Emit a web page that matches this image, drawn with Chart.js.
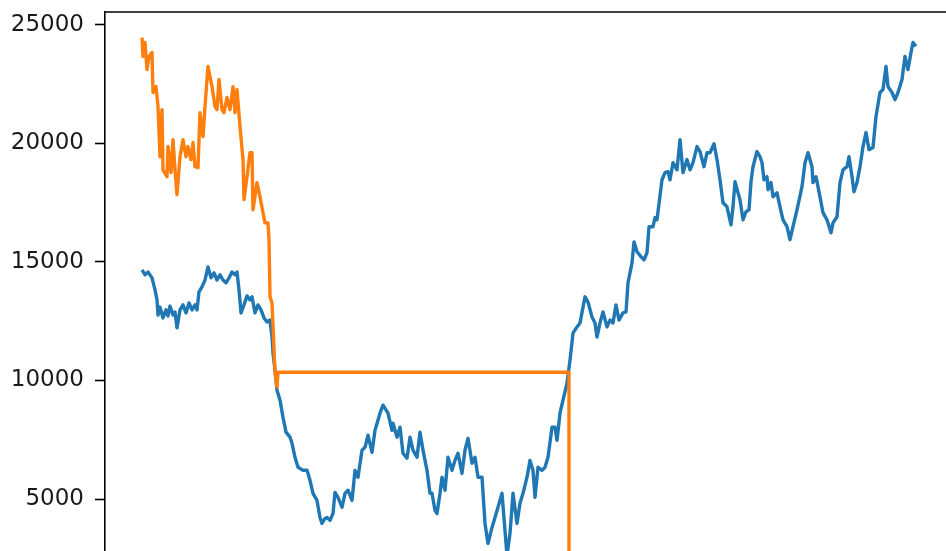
<!DOCTYPE html>
<html>
<head>
<meta charset="utf-8">
<script src="https://cdn.jsdelivr.net/npm/chart.js@4.4.1/dist/chart.umd.min.js"></script>
<style>
  html, body { margin: 0; padding: 0; background: #fff; overflow: hidden; }
  canvas { display: block; }
</style>
</head>
<body>
<canvas id="chart" width="946" height="551"></canvas>
<script>
// day numbers and values
var blueDays = [2,5,8,12,15,17,18,20,23,26,28,30,33,35,37,40,43,46,49,52,55,57,59,62,65,68,71,74,77,80,83,86,89,92,95,97,99,101,104,107,110,112,115,118,121,124,127,130,132,133,135,137,140,143,146,150,152,155,158,163,167,170,173,177,180,182,185,187,190,193,195,198,202,205,208,212,215,218,222,225,228,232,235,240,243,248,252,253,257,260,263,267,270,273,277,280,283,287,290,292,295,297,300,302,305,308,312,315,318,322,325,328,332,335,338,342,345,348,352,355,358,362,365,367,370,373,377,380,383,387,390,393,395,398,402,405,408,412,415,417,420,423,427,430,433,437,440,445,448,452,455,457,460,463,467,470,473,476,479,483,486,488,492,494,497,501,504,507,509,513,515,517,522,525,528,530,533,537,540,543,547,550,553,557,560,564,567,570,574,577,580,583,587,591,593,595,598,600,603,606,609,611,613,617,620,622,624,627,628,631,633,637,640,643,647,650,653,657,662,665,668,672,673,676,680,683,687,691,693,697,700,703,707,709,712,714,717,720,723,726,729,733,736,740,743,746,748,752,755,758,762,765,768,771,773,776];
var blueValues = [14670,14460,14580,14330,13820,13400,12760,13100,12640,12980,12720,13140,12760,12890,12220,12980,13190,12850,13270,12980,13190,12980,13740,13950,14240,14790,14330,14540,14240,14460,14240,14120,14330,14580,14460,14580,13820,12850,13190,13570,13400,13530,12850,13190,12980,12640,12470,12550,11830,11160,10440,9590,9170,8450,7820,7610,7350,6760,6340,6210,6210,5790,5240,4940,4220,3970,4180,4220,4100,4390,5280,5070,4650,5240,5370,4940,6210,5920,7060,7180,7690,6970,7900,8620,8960,8620,7900,8200,7610,8030,6930,6720,7610,7060,6760,7820,7060,6210,5240,5240,4520,4390,5240,5920,5370,6760,6210,6630,6930,6080,7060,7560,6510,6760,5920,5920,3970,3120,3800,4220,4650,5240,3670,2620,3550,5240,3970,4820,5240,5920,6630,6210,5070,6340,6210,6340,6760,8030,8030,7480,8620,9170,9890,10860,12000,12260,12430,13530,13310,12680,12430,11830,12430,12890,12260,12550,12430,13190,12550,12850,12890,14120,14960,15850,15430,15220,15090,15390,16490,16490,16870,16780,18470,18770,18810,18470,19190,18890,20160,18770,19320,18890,19190,19870,19660,19020,19610,19610,19990,19320,18470,17500,17330,16570,17330,18390,17920,17630,16780,17120,17200,18390,19020,19660,19440,19190,18470,18600,18050,18350,17750,17920,17330,16780,16490,15940,16490,17200,18180,19190,19610,19020,18350,18600,17750,17080,16780,16230,16650,16910,18350,18890,19020,19440,18600,17960,18350,19020,19870,20460,19740,19830,21140,22150,22280,23250,22400,22150,21850,22150,22700,23670,23120,23840,24260,24100];

var orangeDays = [2,3,5,7,9,12,13,16,18,20,22,23,27,28,31,33,35,37,40,43,46,48,51,53,55,58,60,63,65,68,72,75,77,79,82,84,87,90,93,95,97,100,103,104,107,110,112,113,117,120,123,125,128,129,130,132,135,137,138,429,429];
var orangeValues = [24470,23670,24260,23120,23670,23840,22150,22400,21560,19440,21430,18890,18600,19870,18770,20160,18890,17840,19440,20160,19440,19870,19320,20040,19020,18980,21300,20290,21560,23250,22400,21560,21430,22700,21430,21300,21940,21430,22400,21300,22280,20710,19320,17630,18600,19610,19610,17200,18350,17750,17080,16650,16650,15940,13530,13270,10350,9720,10350,10350,-3000];

var yTicks = [5000, 10000, 15000, 20000, 25000];

function toPoints(xs, ys) {
    return xs.map(function (x, i) { return { x: x, y: ys[i] }; });
}

// top spine, like the matplotlib frame
var topSpine = {
    id: 'topSpine',
    afterDraw: function (chart) {
        var a = chart.chartArea;
        var ctx = chart.ctx;
        ctx.save();
        ctx.strokeStyle = '#000';
        ctx.lineWidth = 1.6;
        ctx.beginPath();
        ctx.moveTo(a.left, a.top);
        ctx.lineTo(a.right + 2, a.top);
        ctx.stroke();
        ctx.restore();
    }
};

new Chart(document.getElementById('chart'), {
    type: 'line',
    data: {
        datasets: [{
            data: toPoints(orangeDays, orangeValues),
            borderColor: '#ff7f0e',
            borderWidth: 3.4,
            pointRadius: 0,
            tension: 0,
            borderJoinStyle: 'round',
            order: 0
        }, {
            data: toPoints(blueDays, blueValues),
            borderColor: '#1f77b4',
            borderWidth: 3.4,
            pointRadius: 0,
            tension: 0,
            borderJoinStyle: 'round',
            order: 1
        }]
    },
    options: {
        responsive: false,
        animation: false,
        layout: { padding: { top: 12, left: 0, right: 0, bottom: 0 } },
        plugins: {
            legend: { display: false },
            tooltip: { enabled: false }
        },
        scales: {
            x: {
                type: 'linear',
                display: false,
                min: -35,
                max: 806
            },
            y: {
                min: 2806,
                max: 25548,
                afterBuildTicks: function (scale) {
                    scale.ticks = yTicks.map(function (v) { return { value: v }; });
                },
                afterFit: function (scale) {
                    scale.width = 105;
                    scale.paddingTop = 0;
                    scale.paddingBottom = 0;
                },
                grid: {
                    drawOnChartArea: false,
                    drawTicks: true,
                    tickLength: 10,
                    tickWidth: 1.6,
                    tickColor: '#000'
                },
                border: {
                    display: true,
                    color: '#000',
                    width: 1.6
                },
                ticks: {
                    padding: 11,
                    color: '#1a1a1a',
                    font: { family: 'DejaVu Sans', size: 23 },
                    callback: function (value) { return String(value); }
                }
            }
        }
    },
    plugins: [topSpine]
});
</script>
</body>
</html>
